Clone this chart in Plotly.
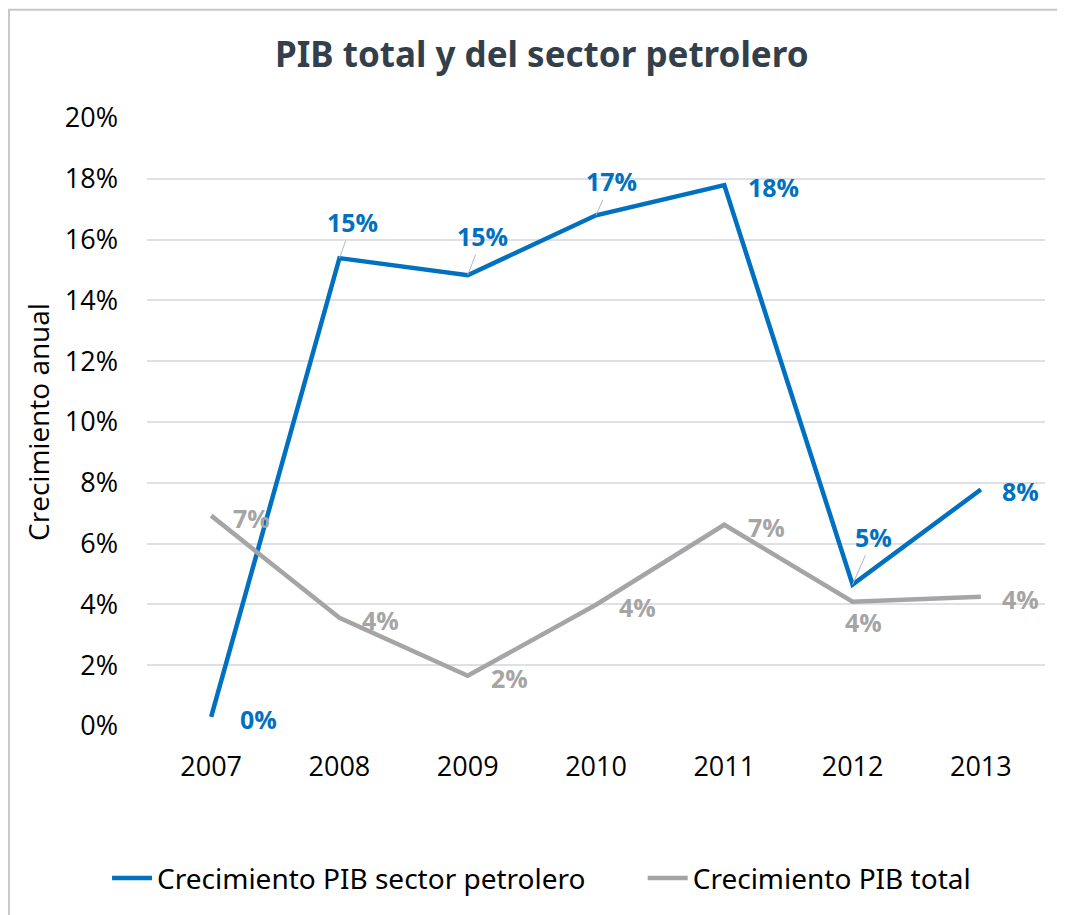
import plotly.graph_objects as go

years = ["2007", "2008", "2009", "2010", "2011", "2012", "2013"]
petro = [0.003, 0.1539, 0.1483, 0.1680, 0.1779, 0.0465, 0.0778]
total = [0.0692, 0.0356, 0.0165, 0.0399, 0.0662, 0.0409, 0.0425]
petro_labels = ["0%", "15%", "15%", "17%", "18%", "5%", "8%"]
total_labels = ["7%", "4%", "2%", "4%", "7%", "4%", "4%"]
y_ticks = [0, 0.02, 0.04, 0.06, 0.08, 0.10, 0.12, 0.14, 0.16, 0.18, 0.20]
y_tick_text = ["0%", "2%", "4%", "6%", "8%", "10%", "12%", "14%", "16%", "18%", "20%"]

BLUE = "#0070C0"
GRAY = "#A5A5A5"
LBL_FONT = "Open Sans"
TXT_FONT = "Noto Sans"

# label offsets (px) and whether a leader line is drawn
petro_off = [(47, -2, False), (13, 36, True), (15, 39, True), (15, 34, True),
             (49, -2, False), (21, 48, True), (40, -2, False)]
total_off = [(40, -2, False), (41, -2, False), (42, -2, False), (41, -2, False),
             (42, -2, False), (11, -20, False), (40, -2, False)]

fig = go.Figure()
fig.add_trace(go.Scatter(x=years, y=petro, mode="lines", name="Crecimiento PIB sector petrolero",
                         line=dict(color=BLUE, width=4.5), legend="legend"))
fig.add_trace(go.Scatter(x=years, y=total, mode="lines", name="Crecimiento PIB total",
                         line=dict(color=GRAY, width=4.5), legend="legend2"))

annotations = []
for series, labels, offs, col in [(petro, petro_labels, petro_off, BLUE),
                                  (total, total_labels, total_off, GRAY)]:
    for i, (yv, lab, (dx, dy, leader)) in enumerate(zip(series, labels, offs)):
        f = dict(family=LBL_FONT, size=25, color=col, weight="bold")
        if leader:
            annotations.append(dict(x=i, y=yv, xref="x", yref="y", text=lab,
                                    showarrow=True, arrowhead=0, arrowwidth=1,
                                    arrowcolor="#B0B8C0", ax=dx, ay=-dy, standoff=0,
                                    font=f))
        else:
            annotations.append(dict(x=i, y=yv, xref="x", yref="y", text=lab,
                                    showarrow=False, xshift=dx, yshift=dy, font=f))

legend_font = dict(family=TXT_FONT, size=28, color="#000000")

fig.update_layout(
    width=1057, height=907,
    paper_bgcolor="white", plot_bgcolor="white",
    margin=dict(l=139, r=20, t=110, b=182),
    title=dict(text="<b>PIB total y del sector petrolero</b>", x=0.505, xanchor="center",
               y=0.948, yanchor="middle",
               font=dict(family=TXT_FONT, size=35, color="#333F4B")),
    xaxis=dict(type="category", range=[-0.5, 6.5], showgrid=False, showline=False,
               zeroline=False, ticks="", tickangle=0,
               tickfont=dict(family=LBL_FONT, size=27, color="#000000"),
               ticklabelstandoff=22),
    yaxis=dict(range=[0, 0.2], tickvals=y_ticks, ticktext=y_tick_text, showgrid=True,
               gridcolor="#DDE1E6", gridwidth=1.5, zeroline=False, showline=False, ticks="",
               tickfont=dict(family=LBL_FONT, size=27, color="#000000"), ticklabelstandoff=28,
               title=dict(text="Crecimiento anual", standoff=6,
                          font=dict(family=LBL_FONT, size=28, color="#000000"))),
    legend=dict(orientation="h", x=-0.0445, xanchor="left", y=-0.2504, yanchor="middle",
                font=legend_font, itemwidth=40, bgcolor="rgba(0,0,0,0)"),
    legend2=dict(orientation="h", x=0.552, xanchor="left", y=-0.2504, yanchor="middle",
                 font=legend_font, itemwidth=40, bgcolor="rgba(0,0,0,0)"),
    annotations=annotations,
    shapes=[dict(type="rect", xref="paper", yref="paper", x0=-0.1537, x1=1.2,
                 y0=-0.4, y1=1.178, line=dict(color="#C8C8C8", width=2), layer="below")],
    showlegend=True,
)

fig.write_html("out.html")
